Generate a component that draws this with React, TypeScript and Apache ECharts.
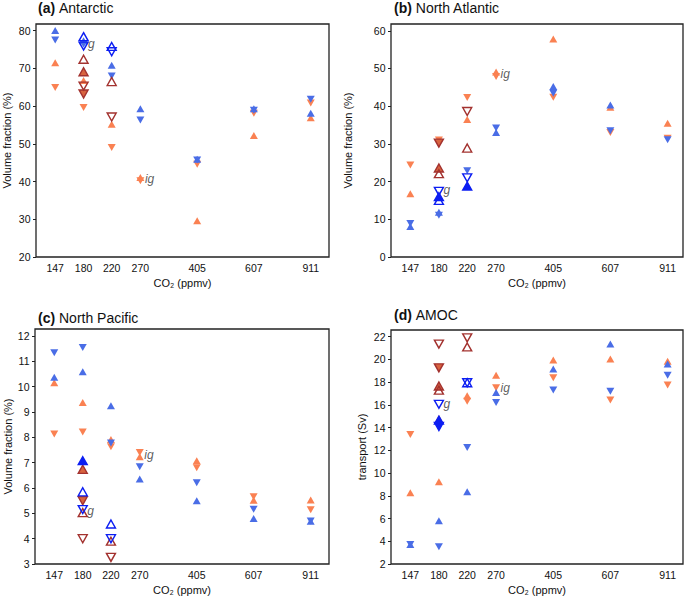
import React, { useEffect, useRef } from "react";
import * as echarts from "echarts";

// ---------- data ----------
const CO2_TICKS = [147, 180, 220, 270, 405, 607, 911];
const Y_TICKS_A = [20, 30, 40, 50, 60, 70, 80];
const Y_TICKS_B = [0, 10, 20, 30, 40, 50, 60];
const Y_TICKS_C = [3, 4, 5, 6, 7, 8, 9, 10, 11, 12];
const Y_TICKS_D = [2, 4, 6, 8, 10, 12, 14, 16, 18, 20, 22];

// (a) Antarctic
const A_OU = [[147, 71.5], [180, 66.8], [220, 55.2], [270, 41.1], [405, 29.6], [607, 52.2], [911, 56.9]];
const A_OD = [[147, 64.9], [180, 59.6], [220, 49.0], [270, 40.2], [405, 44.6], [607, 58.1], [911, 60.8]];
const A_BU = [[147, 80.0], [180, 77.3], [220, 70.8], [270, 59.3], [405, 45.9], [607, 59.3], [911, 58.1]];
const A_BD = [[147, 77.5], [180, 76.4], [220, 68.0], [270, 56.3], [405, 45.7], [607, 58.9], [911, 61.8]];
const A_RU = [[180, 72.4], [220, 66.5]];
const A_RD = [[180, 65.3], [220, 57.1]];
const A_RFU = [[180, 69.1]];
const A_RFD = [[180, 63.2]];
const A_GU = [[180, 78.4], [220, 75.8]];
const A_GD = [[180, 75.9], [220, 74.4]];
const A_GFU: number[][] = [];
const A_GFD: number[][] = [];
const A_TXT = [[180, 76.4, "g"], [270, 40.7, "ig"]];

// (b) North Atlantic
const B_OU = [[147, 16.8], [220, 36.5], [270, 49.1], [405, 57.8], [607, 39.7], [911, 35.5]];
const B_OD = [[147, 24.4], [180, 31.0], [220, 42.3], [270, 47.9], [405, 42.4], [607, 33.0], [911, 31.5]];
const B_BU = [[147, 8.1], [180, 11.9], [270, 33.0], [405, 45.2], [607, 40.3]];
const B_BD = [[147, 8.9], [180, 11.1], [220, 22.9], [270, 34.2], [405, 43.4], [607, 33.5], [911, 31.1]];
const B_RU = [[180, 22.1], [220, 28.9]];
const B_RD = [[220, 38.6]];
const B_RFU = [[180, 23.6]];
const B_RFD = [[180, 30.2]];
const B_GU = [[180, 15.0]];
const B_GD = [[180, 17.4], [220, 21.0]];
const B_GFU = [[180, 16.0], [220, 18.8]];
const B_GFD: number[][] = [];
const B_TXT = [[180, 17.9, "g"], [270, 48.5, "ig"]];

// (c) North Pacific
const C_OU = [[147, 10.16], [180, 9.38], [220, 7.92], [270, 7.24], [405, 7.08], [607, 5.52], [911, 5.53]];
const C_OD = [[147, 8.13], [180, 8.21], [220, 7.63], [270, 7.4], [405, 6.8], [607, 5.66], [911, 5.14]];
const C_BU = [[147, 10.37], [180, 10.59], [220, 9.25], [270, 6.36], [405, 5.5], [607, 4.8], [911, 4.69]];
const C_BD = [[147, 11.34], [180, 11.55], [220, 7.78], [270, 6.84], [405, 6.21], [607, 5.16], [911, 4.7]];
const C_RU = [[180, 5.03], [220, 3.9]];
const C_RD = [[180, 4.0], [220, 3.26]];
const C_RFU = [[180, 6.74]];
const C_RFD = [[180, 5.5]];
const C_GU = [[180, 5.85], [220, 4.58]];
const C_GD = [[180, 5.15], [220, 4.0]];
const C_GFU = [[180, 7.08]];
const C_GFD: number[][] = [];
const C_TXT = [[180, 5.1, "g"], [270, 7.3, "ig"]];

// (d) AMOC
const D_OU = [[147, 8.27], [180, 9.24], [180, 14.8], [220, 16.8], [270, 18.6], [405, 19.94], [607, 20.03], [911, 19.85]];
const D_OD = [[147, 13.4], [220, 16.33], [270, 17.5], [405, 18.39], [607, 16.42], [911, 17.74]];
const D_BU = [[147, 3.72], [180, 5.81], [220, 8.36], [270, 17.1], [405, 19.15], [607, 21.35], [911, 19.6]];
const D_BD = [[147, 3.72], [180, 3.52], [220, 12.26], [270, 16.2], [405, 17.3], [607, 17.2], [911, 18.6]];
const D_RU = [[180, 17.3], [220, 21.1]];
const D_RD = [[180, 21.35], [220, 21.9]];
const D_RFU = [[180, 17.66]];
const D_RFD = [[180, 19.26]];
const D_GU = [[220, 17.95]];
const D_GD = [[180, 16.05], [220, 17.95]];
const D_GFU = [[180, 14.66]];
const D_GFD = [[180, 14.1]];
const D_TXT = [[180, 16.05, "g"], [270, 17.45, "ig"]];

// ---------- styling / layout ----------
const FONT = "Liberation Sans, Arial, Helvetica, sans-serif";
const ORANGE = "#FA8152";
const BLUE = "#4A6DE6";
const DRED = "#A3322F";
const RFILL = "#D8633F";
const BBLUE = "#0C1EF2";

// log-spaced position: 147 -> 0, each factor sqrt(1.5) -> 1
const pos = (c: number) => (2 * Math.log(c / 147)) / Math.log(1.5);

const PANELS = [
  { title: "(a)", name: "Antarctic", yName: "Volume fraction (%)", grid: { left: 35, top: 24, width: 294, height: 233 }, xMax: 9.64, yMin: 20, yMax: 81.75, yTicks: Y_TICKS_A, nameGap: 24, titlePos: { left: 38, top: 1 },
    sets: { OU: A_OU, OD: A_OD, BU: A_BU, BD: A_BD, RU: A_RU, RD: A_RD, RFU: A_RFU, RFD: A_RFD, GU: A_GU, GD: A_GD, GFU: A_GFU, GFD: A_GFD }, txt: A_TXT },
  { title: "(b)", name: "North Atlantic", yName: "Volume fraction (%)", grid: { left: 391, top: 24, width: 292, height: 233 }, xMax: 9.535, yMin: 0, yMax: 61.8, yTicks: Y_TICKS_B, nameGap: 38, titlePos: { left: 394, top: 1 },
    sets: { OU: B_OU, OD: B_OD, BU: B_BU, BD: B_BD, RU: B_RU, RD: B_RD, RFU: B_RFU, RFD: B_RFD, GU: B_GU, GD: B_GD, GFU: B_GFU, GFD: B_GFD }, txt: B_TXT },
  { title: "(c)", name: "North Pacific", yName: "Volume fraction (%)", grid: { left: 35, top: 329, width: 294, height: 235 }, xMax: 9.64, yMin: 3, yMax: 12.28, yTicks: Y_TICKS_C, nameGap: 22, titlePos: { left: 38, top: 311 },
    sets: { OU: C_OU, OD: C_OD, BU: C_BU, BD: C_BD, RU: C_RU, RD: C_RD, RFU: C_RFU, RFD: C_RFD, GU: C_GU, GD: C_GD, GFU: C_GFU, GFD: C_GFD }, txt: C_TXT },
  { title: "(d)", name: "AMOC", yName: "transport (Sv)", grid: { left: 391, top: 330, width: 292, height: 234 }, xMax: 9.535, yMin: 2, yMax: 22.59, yTicks: Y_TICKS_D, nameGap: 24, titlePos: { left: 394, top: 308 },
    sets: { OU: D_OU, OD: D_OD, BU: D_BU, BD: D_BD, RU: D_RU, RD: D_RD, RFU: D_RFU, RFD: D_RFD, GU: D_GU, GD: D_GD, GFU: D_GFU, GFD: D_GFD }, txt: D_TXT },
];

const CLEAR = "rgba(255,255,255,0)";
const MARKERS: { key: string; down: boolean; fill: string; border?: string }[] = [
  { key: "OU", down: false, fill: ORANGE },
  { key: "OD", down: true, fill: ORANGE },
  { key: "BU", down: false, fill: BLUE },
  { key: "BD", down: true, fill: BLUE },
  { key: "RFU", down: false, fill: RFILL, border: DRED },
  { key: "RFD", down: true, fill: RFILL, border: DRED },
  { key: "RU", down: false, fill: CLEAR, border: DRED },
  { key: "RD", down: true, fill: CLEAR, border: DRED },
  { key: "GFU", down: false, fill: BBLUE, border: BBLUE },
  { key: "GFD", down: true, fill: BBLUE, border: BBLUE },
  { key: "GU", down: false, fill: CLEAR, border: BBLUE },
  { key: "GD", down: true, fill: CLEAR, border: BBLUE },
];

function buildOption() {
  const grids: any[] = [];
  const xAxes: any[] = [];
  const yAxes: any[] = [];
  const series: any[] = [];
  const titles: any[] = [];

  PANELS.forEach((p, i) => {
    grids.push({ ...p.grid, show: true, borderColor: "#222", borderWidth: 1.3, backgroundColor: "transparent" });
    titles.push({
      ...p.titlePos,
      padding: 0,
      text: `{b|${p.title}} {n|${p.name}}`,
      textStyle: {
        fontWeight: "normal", fontSize: 14, fontFamily: FONT, color: "#111",
        rich: {
          b: { fontFamily: FONT, fontWeight: "bold", fontSize: 14, color: "#111" },
          n: { fontFamily: FONT, fontWeight: "normal", fontSize: 14, color: "#111" },
        },
      },
    });
    xAxes.push({
      gridIndex: i, type: "value", min: -0.676, max: p.xMax,
      name: "CO₂ (ppmv)", nameLocation: "middle", nameGap: 20.5,
      nameTextStyle: { fontFamily: FONT, fontSize: 11, color: "#111" },
      axisLine: { show: false, onZero: false }, axisTick: { show: false }, splitLine: { show: false },
      axisLabel: {
        customValues: CO2_TICKS.map(pos), margin: 5, fontFamily: FONT, fontSize: 10.5, color: "#111",
        formatter: (v: number) => { const t = CO2_TICKS.find((c) => Math.abs(pos(c) - v) < 1e-6); return t ? String(t) : ""; },
      },
    });
    yAxes.push({
      gridIndex: i, type: "value", min: p.yMin, max: p.yMax,
      name: p.yName, nameLocation: "middle", nameGap: p.nameGap,
      nameTextStyle: { fontFamily: FONT, fontSize: 11, color: "#111" },
      axisLine: { show: false, onZero: false }, splitLine: { show: false },
      axisTick: { show: true, customValues: p.yTicks, length: 3, lineStyle: { color: "#222", width: 1 } },
      axisLabel: { customValues: p.yTicks, margin: 5.5, fontFamily: FONT, fontSize: 10.5, color: "#111" },
    });
    MARKERS.forEach((m) => {
      const d = (p.sets as any)[m.key] as number[][];
      if (!d || d.length === 0) return;
      series.push({
        type: "scatter", xAxisIndex: i, yAxisIndex: i,
        symbol: "triangle", symbolRotate: m.down ? 180 : 0,
        symbolSize: m.border ? [9, 8] : [8, 7],
        itemStyle: { color: m.fill, borderColor: m.border || m.fill, borderWidth: m.border ? 1.4 : 0, opacity: 1 },
        data: d.map(([c, v]) => [pos(c), v]),
        silent: true,
      });
    });
    series.push({
      type: "scatter", xAxisIndex: i, yAxisIndex: i, symbol: "circle", symbolSize: 1, silent: true,
      itemStyle: { color: "rgba(0,0,0,0)" },
      data: p.txt.map(([c, v, t]) => ({ value: [pos(c as number), v], name: t })),
      label: { show: true, position: "right", distance: 4, formatter: (q: any) => q.name, fontFamily: FONT, fontStyle: "italic", fontSize: 12, color: "#333" },
    });
  });

  return { animation: false, backgroundColor: "#fff", title: titles, grid: grids, xAxis: xAxes, yAxis: yAxes, series };
}

export default function App() {
  const ref = useRef<HTMLDivElement>(null);
  useEffect(() => {
    if (!ref.current) return;
    const chart = echarts.init(ref.current, undefined, { renderer: "svg" });
    chart.setOption(buildOption() as any);
    return () => chart.dispose();
  }, []);
  return <div ref={ref} style={{ position: "fixed", left: 0, top: 0, width: 685, height: 599, background: "#fff" }} />;
}
